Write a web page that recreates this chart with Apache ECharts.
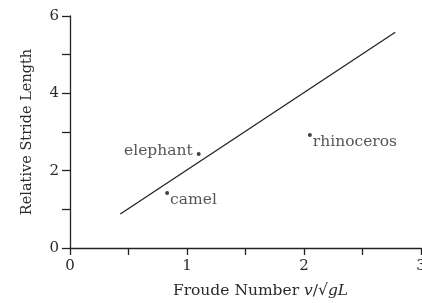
<!DOCTYPE html>
<html><head><meta charset="utf-8">
<script src="https://cdn.jsdelivr.net/npm/echarts@6/dist/echarts.min.js"></script>
<style>html,body{margin:0;padding:0;background:#fff}#c{width:422px;height:303px}</style>
</head><body><div id="c"></div>
<script>
const animals = ['elephant', 'camel', 'rhinoceros'];
const froude = [1.10, 0.83, 2.05];
const stride = [2.43, 1.42, 2.92];
const fitX = [0.43, 2.78];
const fitY = [0.88, 5.58];
const xTicks = [0, 1, 2, 3];
const yTicks = [0, 2, 4, 6];

const font = '"DejaVu Serif",serif';
const col = '#2a2a2a';
const chart = echarts.init(document.getElementById('c'));
chart.setOption({
  animation: false,
  grid: {left: 70, right: 1, top: 16, bottom: 55, outerBoundsMode: 'none', containLabel: false},
  xAxis: {
    type: 'value', min: 0, max: 3, interval: 0.5,
    axisLine: {lineStyle: {color: '#222', width: 1.3}},
    axisTick: {length: 7, lineStyle: {color: '#222', width: 1.3}},
    splitLine: {show: false},
    axisLabel: {color: col, fontFamily: font, fontSize: 15, margin: 11, hideOverlap: false,
      showMaxLabel: true, formatter: v => xTicks.includes(v) ? String(v) : ''},
    name: '{n|Froude Number }{i|v}{n|/√}{i|gL}',
    nameLocation: 'middle', nameGap: 35,
    nameTextStyle: {padding: [0, 0, 0, 30], rich: {
      n: {fontFamily: font, fontSize: 15.5, color: col},
      i: {fontFamily: font, fontSize: 15.5, color: col, fontStyle: 'italic'}
    }}
  },
  yAxis: {
    type: 'value', min: 0, max: 6, interval: 1,
    axisLine: {lineStyle: {color: '#222', width: 1.3}},
    axisTick: {length: 8, lineStyle: {color: '#222', width: 1.3}},
    splitLine: {show: false},
    axisLabel: {color: col, fontFamily: font, fontSize: 15, margin: 11,
      formatter: v => yTicks.includes(v) ? String(v) : ''},
    name: 'Relative Stride Length', nameLocation: 'middle', nameGap: 35,
    nameTextStyle: {fontFamily: font, fontSize: 14.5, color: col}
  },
  series: [
    {
      type: 'line', data: fitX.map((x, i) => [x, fitY[i]]),
      symbol: 'none', lineStyle: {color: '#222', width: 1.3}, silent: true
    },
    {
      type: 'scatter', symbolSize: 4, itemStyle: {color: '#111'},
      data: animals.map((a, i) => ({
        value: [froude[i], stride[i]], name: a,
        label: a === 'elephant'
          ? {position: 'left', distance: 4, offset: [0, -3]}
          : {position: 'right', distance: 1, offset: [0, 7]}
      })),
      label: {show: true, formatter: p => p.name, fontFamily: font, fontSize: 15.5, color: col}
    }
  ]
});
</script></body></html>
